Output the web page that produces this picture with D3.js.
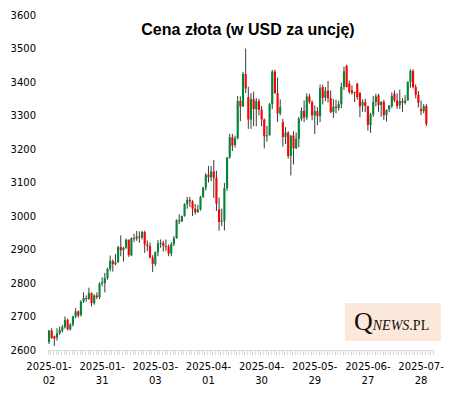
<!DOCTYPE html>
<html>
<head>
<meta charset="utf-8">
<script src="https://cdn.jsdelivr.net/npm/d3@7"></script>
<style>
  body { margin: 0; background: #fff; }
  svg { display: block; }
</style>
</head>
<body>
<svg id="chart" width="468" height="396"></svg>
<script>
// daily OHLC, 2025-01-02 .. 2025-07-30
const open = [
  2624, 2658, 2641, 2637, 2650, 2658, 2668, 2690, 2662, 2676, 2700, 2715, 2705, 2745, 2755, 2752, 2770, 2740, 2763, 2758, 2798,
  2800, 2815, 2842, 2866, 2856, 2862, 2907, 2898, 2905, 2929, 2883, 2934, 2932, 2939, 2936, 2952, 2915, 2910, 2876,
  2857, 2892, 2918, 2920, 2911, 2909, 2888, 2916, 2934, 2987, 2984, 3000, 3035, 3048, 3044, 3022, 3011, 3020, 3057, 3085,
  3123, 3116, 3133, 3114, 3020, 2982, 2986, 3083, 3175, 3235, 3212, 3232, 3343, 3327, 3424, 3355, 3288, 3349, 3319, 3343, 3317,
  3288, 3238, 3241, 3334, 3431, 3366, 3306, 3280, 3236, 3249, 3179, 3240, 3202, 3230, 3290, 3314, 3294, 3357, 3340, 3300, 3313,
  3298, 3385, 3353, 3374, 3352, 3310, 3326, 3322, 3334, 3386, 3448, 3395, 3375, 3370, 3395, 3368, 3330, 3340, 3328, 3272,
  3303, 3340, 3360, 3331, 3341, 3301, 3318, 3328, 3365, 3345, 3331, 3343, 3338, 3345, 3400, 3433, 3385, 3362, 3319, 3313, 3328
];
const high = [
  2660, 2665, 2643, 2665, 2670, 2675, 2700, 2694, 2680, 2702, 2725, 2718, 2748, 2772, 2763, 2786, 2772, 2766, 2772, 2802, 2817,
  2830, 2845, 2882, 2870, 2887, 2911, 2942, 2908, 2933, 2930, 2936, 2947, 2955, 2954, 2956, 2956, 2927, 2921, 2883,
  2894, 2928, 2930, 2926, 2930, 2915, 2922, 2940, 2990, 3005, 3001, 3038, 3057, 3057, 3047, 3036, 3033, 3060, 3087, 3128,
  3149, 3149, 3167, 3135, 3055, 3022, 3099, 3176, 3245, 3245, 3240, 3358, 3357, 3430, 3500, 3386, 3367, 3371, 3352, 3350, 3328,
  3291, 3269, 3337, 3436, 3437, 3413, 3348, 3290, 3265, 3253, 3241, 3253, 3249, 3296, 3324, 3345, 3366, 3365, 3345, 3330, 3325,
  3392, 3392, 3385, 3403, 3375, 3349, 3347, 3344, 3398, 3446, 3452, 3404, 3390, 3371, 3398, 3369, 3348, 3350, 3329, 3308,
  3358, 3365, 3365, 3342, 3347, 3318, 3330, 3369, 3375, 3366, 3377, 3352, 3361, 3402, 3438, 3438, 3393, 3373, 3345, 3334, 3334
];
const low = [
  2618, 2633, 2612, 2628, 2645, 2652, 2664, 2658, 2658, 2670, 2695, 2697, 2700, 2740, 2744, 2750, 2730, 2735, 2752, 2752, 2790,
  2772, 2810, 2835, 2834, 2853, 2860, 2880, 2864, 2902, 2878, 2880, 2922, 2926, 2920, 2930, 2890, 2895, 2873, 2833,
  2850, 2880, 2905, 2894, 2896, 2880, 2880, 2910, 2932, 2976, 2982, 2998, 3022, 3027, 3000, 3004, 3010, 3016, 3054, 3076,
  3100, 3104, 3054, 3015, 2956, 2970, 2957, 3075, 3171, 3194, 3204, 3229, 3283, 3326, 3367, 3260, 3260, 3268, 3268, 3300, 3268,
  3202, 3222, 3240, 3319, 3366, 3281, 3300, 3207, 3215, 3171, 3121, 3154, 3200, 3205, 3284, 3280, 3287, 3335, 3286, 3245, 3271,
  3280, 3333, 3343, 3339, 3307, 3293, 3306, 3315, 3322, 3376, 3384, 3365, 3362, 3340, 3347, 3295, 3311, 3310, 3255, 3248,
  3296, 3327, 3311, 3296, 3287, 3282, 3310, 3322, 3340, 3320, 3320, 3310, 3333, 3345, 3383, 3381, 3351, 3324, 3301, 3307, 3268
];
const close = [
  2658, 2636, 2634, 2650, 2660, 2668, 2690, 2662, 2676, 2700, 2715, 2703, 2745, 2755, 2752, 2770, 2740, 2763, 2758, 2798, 2802,
  2815, 2842, 2866, 2856, 2862, 2907, 2898, 2905, 2929, 2883, 2934, 2932, 2939, 2936, 2952, 2915, 2910, 2876, 2857,
  2892, 2918, 2920, 2911, 2909, 2888, 2916, 2934, 2987, 2984, 3000, 3035, 3048, 3044, 3022, 3011, 3020, 3057, 3085, 3123,
  3116, 3133, 3114, 3037, 2982, 2986, 3083, 3175, 3235, 3210, 3232, 3343, 3327, 3424, 3381, 3288, 3349, 3319, 3343, 3317, 3288,
  3238, 3241, 3334, 3431, 3366, 3306, 3325, 3236, 3249, 3179, 3240, 3202, 3230, 3290, 3314, 3294, 3357, 3340, 3300, 3313, 3298,
  3381, 3353, 3374, 3352, 3310, 3326, 3322, 3334, 3386, 3432, 3385, 3370, 3368, 3367, 3355, 3327, 3340, 3328, 3272, 3303,
  3340, 3357, 3331, 3341, 3301, 3317, 3330, 3358, 3345, 3328, 3343, 3338, 3345, 3400, 3433, 3385, 3362, 3338, 3313, 3328, 3275
];
// axis has two empty slots after the last session
const slots = open.length + 2;
const tickEvery = 20;
const tickLabels = ["2025-01-02", "2025-01-31", "2025-03-03", "2025-04-01", "2025-04-30", "2025-05-29", "2025-06-27", "2025-07-28"];
const yTicks = [2600, 2700, 2800, 2900, 3000, 3100, 3200, 3300, 3400, 3500, 3600];
const title = "Cena złota (w USD za uncję)";

const svg = d3.select("#chart");
const width = 468, height = 396;
const margin = { top: 15, right: 35, bottom: 46, left: 47.7 };

const x = d3.scaleBand()
    .domain(d3.range(slots))
    .range([margin.left, width - margin.right])
    .padding(0);

const y = d3.scaleLinear()
    .domain([2600, 3600])
    .range([height - margin.bottom, margin.top]);

svg.append("rect").attr("width", width).attr("height", height).attr("fill", "#fff");

// title
svg.append("text")
    .attr("x", 248)
    .attr("y", 35)
    .attr("text-anchor", "middle")
    .style("font-family", "'Liberation Sans', Arial, sans-serif")
    .style("font-weight", "bold")
    .style("font-size", "16px")
    .attr("fill", "#000")
    .text(title);

// y axis (labels only)
const yAxis = svg.append("g")
    .attr("transform", `translate(36,0)`)
    .call(d3.axisLeft(y).tickValues(yTicks).tickFormat(d3.format("d")).tickSize(0).tickPadding(0));
yAxis.select(".domain").remove();
yAxis.selectAll("text")
    .style("font-family", "'DejaVu Sans', Verdana, sans-serif")
    .style("font-size", "10px")
    .attr("fill", "#000");

// x axis: line + tick at every category boundary
const axisY = y(2600);
const xg = svg.append("g").attr("stroke", "#d9d9d9").attr("stroke-width", 1);
xg.append("line")
    .attr("x1", x.range()[0]).attr("x2", x.range()[1])
    .attr("y1", axisY + 0.5).attr("y2", axisY + 0.5);
xg.selectAll("line.tick")
    .data(d3.range(slots + 1))
    .enter().append("line")
    .attr("class", "tick")
    .attr("x1", d => Math.round(x.range()[0] + d * x.step()) + 0.5)
    .attr("x2", d => Math.round(x.range()[0] + d * x.step()) + 0.5)
    .attr("y1", axisY)
    .attr("y2", axisY + 5);

const labels = svg.append("g")
    .style("font-family", "'DejaVu Sans', Verdana, sans-serif")
    .style("font-size", "10px")
    .attr("fill", "#000")
    .attr("text-anchor", "middle");
tickLabels.forEach((lab, i) => {
    const cx = x(i * tickEvery) + x.bandwidth() / 2;
    const t = labels.append("text").attr("x", cx).attr("y", 370);
    t.append("tspan").attr("x", cx).text(lab.slice(0, 8));
    t.append("tspan").attr("x", cx).attr("dy", 14).text(lab.slice(8));
});

// candles
const candles = open.map((o, i) => ({ i, o, h: high[i], l: low[i], c: close[i] }));
const bodyW = x.bandwidth() * 0.8;

svg.append("g")
    .selectAll("line")
    .data(candles)
    .enter().append("line")
    .attr("x1", d => x(d.i) + x.bandwidth() / 2)
    .attr("x2", d => x(d.i) + x.bandwidth() / 2)
    .attr("y1", d => y(d.h))
    .attr("y2", d => y(d.l))
    .attr("stroke", "#3a3a3a")
    .attr("stroke-width", 1);

svg.append("g")
    .selectAll("rect")
    .data(candles)
    .enter().append("rect")
    .attr("x", d => x(d.i) + (x.bandwidth() - bodyW) / 2)
    .attr("y", d => y(Math.max(d.o, d.c)))
    .attr("width", bodyW)
    .attr("height", d => Math.max(1, Math.abs(y(d.o) - y(d.c))))
    .attr("fill", d => d.c >= d.o ? "#00873c" : "#ff0000");

// logo
const logo = svg.append("g");
logo.append("rect")
    .attr("x", 345).attr("y", 303)
    .attr("width", 96).attr("height", 38)
    .attr("fill", "#fce8da");
const lt = logo.append("text")
    .attr("x", 354).attr("y", 330)
    .style("font-family", "'Liberation Serif', 'Times New Roman', serif")
    .attr("fill", "#111");
lt.append("tspan").style("font-size", "26px").text("Q");
lt.append("tspan").style("font-size", "14px").style("font-style", "italic").text("NEWS");
lt.append("tspan").style("font-size", "14px").text(".PL");
</script>
</body>
</html>
